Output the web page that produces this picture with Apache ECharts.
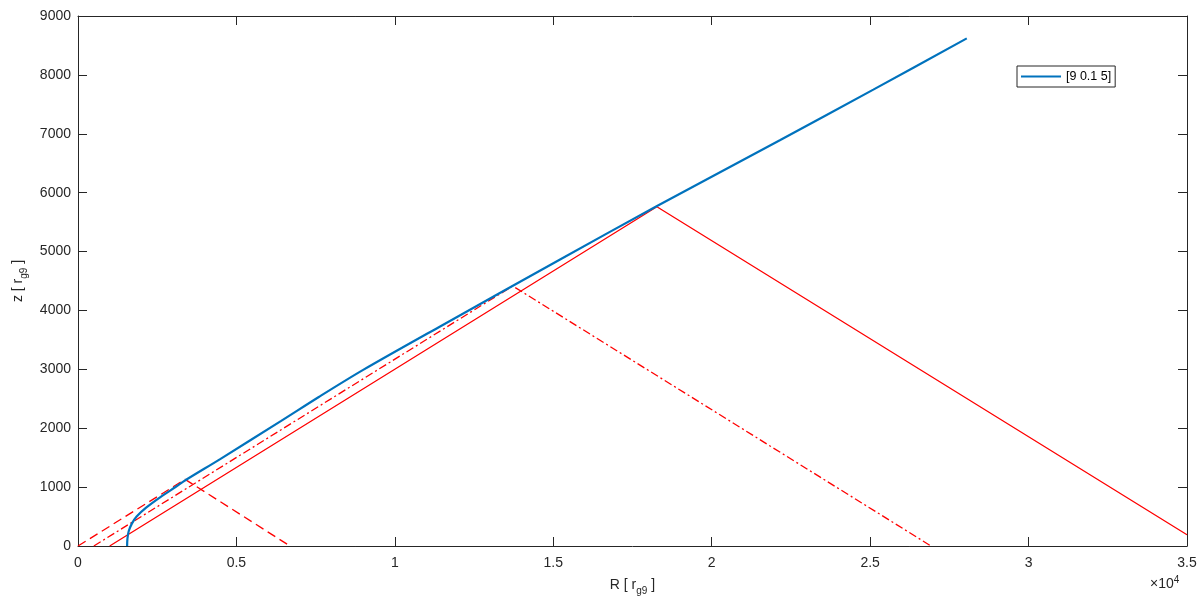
<!DOCTYPE html>
<html>
<head>
<meta charset="utf-8">
<script src="https://cdn.jsdelivr.net/npm/echarts@6/dist/echarts.min.js"></script>
<style>
  html, body { margin: 0; padding: 0; background: #fff; }
  #chart { width: 1200px; height: 608px; }
</style>
</head>
<body>
<div id="chart"></div>
<script>
// jet profile [9 0.1 5], R and z in r_g9
const jetR = [1550, 1560, 1600, 1700, 1850, 2150, 2600, 3100, 3400, 4500, 6400, 7600, 9000, 11400, 15200, 18260, 22150, 25100, 28050];
const jetZ = [0, 120, 250, 380, 500, 650, 830, 1010, 1120, 1480, 2120, 2530, 2990, 3720, 4860, 5770, 6890, 7750, 8620];

// red rays (R, z)
const raySolidR = [1000, 18270, 35000];
const raySolidZ = [0, 5760, 190];
const rayDashDotR = [500, 13720, 26920];
const rayDashDotZ = [0, 4415, 0];
const rayDashR = [0, 3380, 6690];
const rayDashZ = [0, 1132, 0];

const xTicks = ['0', '0.5', '1', '1.5', '2', '2.5', '3', '3.5'];

const pairs = (xs, ys) => xs.map((x, i) => [x, ys[i]]);

const chart = echarts.init(document.getElementById('chart'));
const axisColor = '#262626';
const font = 'Liberation Sans, Arial, sans-serif';

const option = {
  animation: false,
  textStyle: { fontFamily: font },
  grid: { left: 78, right: 13, top: 16, bottom: 62, containLabel: false },
  legend: {
    data: [{ name: '[9 0.1 5]', icon: 'rect' }],
    left: 1017,
    top: 66,
    orient: 'vertical',
    backgroundColor: '#fff',
    borderColor: axisColor,
    borderWidth: 1,
    borderRadius: 0,
    padding: [4, 4, 4, 4],
    itemWidth: 40,
    itemHeight: 2,
    itemGap: 0,
    textStyle: { fontSize: 12.5, color: '#000', fontFamily: font }
  },
  xAxis: [
    {
      type: 'value',
      min: 0, max: 35000, interval: 5000,
      name: '{n|R [ r}{s|g9}{n| ]}',
      nameLocation: 'middle',
      nameGap: 28,
      nameTextStyle: {
        rich: {
          n: { fontSize: 14, color: axisColor, fontFamily: font },
          s: { fontSize: 10, color: axisColor, fontFamily: font, verticalAlign: 'bottom', padding: [12, 0, 0, 0] }
        }
      },
      axisLine: { lineStyle: { color: axisColor, width: 1 } },
      axisTick: { inside: true, length: 9, lineStyle: { color: axisColor } },
      axisLabel: {
        color: axisColor, fontSize: 14, margin: 10,
        formatter: v => xTicks[Math.round(v / 5000)]
      },
      splitLine: { show: false }
    },
    {
      type: 'value', position: 'top',
      min: 0, max: 35000, interval: 5000,
      axisLine: { show: true, onZero: false, lineStyle: { color: axisColor, width: 1 } },
      axisTick: { inside: true, length: 9, lineStyle: { color: axisColor } },
      axisLabel: { show: false },
      splitLine: { show: false }
    }
  ],
  yAxis: [
    {
      type: 'value',
      min: 0, max: 9000, interval: 1000,
      name: '{n|z [ r}{s|g9}{n| ]}',
      nameLocation: 'middle',
      nameGap: 46,
      nameRotate: 90,
      nameTextStyle: {
        rich: {
          n: { fontSize: 14, color: axisColor, fontFamily: font },
          s: { fontSize: 10, color: axisColor, fontFamily: font, verticalAlign: 'bottom', padding: [12, 0, 0, 0] }
        }
      },
      axisLine: { show: true, lineStyle: { color: axisColor, width: 1 } },
      axisTick: { show: true, inside: true, length: 9, lineStyle: { color: axisColor } },
      axisLabel: { color: axisColor, fontSize: 14, margin: 7, formatter: v => String(v) },
      splitLine: { show: false }
    },
    {
      type: 'value', position: 'right',
      min: 0, max: 9000, interval: 1000,
      axisLine: { show: true, onZero: false, lineStyle: { color: axisColor, width: 1 } },
      axisTick: { show: true, inside: true, length: 9, lineStyle: { color: axisColor } },
      axisLabel: { show: false },
      splitLine: { show: false }
    }
  ],
  graphic: [
    {
      type: 'text',
      left: 1150,
      top: 575,
      style: {
        text: '{a|×10}{b|4}',
        rich: {
          a: { fontSize: 14, fill: axisColor, fontFamily: font },
          b: { fontSize: 10, fill: axisColor, fontFamily: font, verticalAlign: 'top', padding: [0, 0, 8, 0] }
        }
      }
    }
  ],
  series: [
    {
      name: 'ray solid', type: 'line', showSymbol: false, symbol: 'none',
      data: pairs(raySolidR, raySolidZ),
      lineStyle: { color: '#ff0000', width: 1.3 },
      z: 2
    },
    {
      name: 'ray dashdot', type: 'line', showSymbol: false, symbol: 'none',
      data: pairs(rayDashDotR, rayDashDotZ),
      lineStyle: { color: '#ff0000', width: 1.3, type: [8, 3, 2, 3] },
      z: 2
    },
    {
      name: 'ray dash', type: 'line', showSymbol: false, symbol: 'none',
      data: pairs(rayDashR, rayDashZ),
      lineStyle: { color: '#ff0000', width: 1.3, type: [9, 5] },
      z: 2
    },
    {
      name: '[9 0.1 5]', type: 'line', showSymbol: false, symbol: 'none',
      data: pairs(jetR, jetZ),
      smooth: 0.3,
      itemStyle: { color: '#0072BD' },
      lineStyle: { color: '#0072BD', width: 2.2 },
      z: 3
    }
  ]
};

chart.setOption(option);
</script>
</body>
</html>
